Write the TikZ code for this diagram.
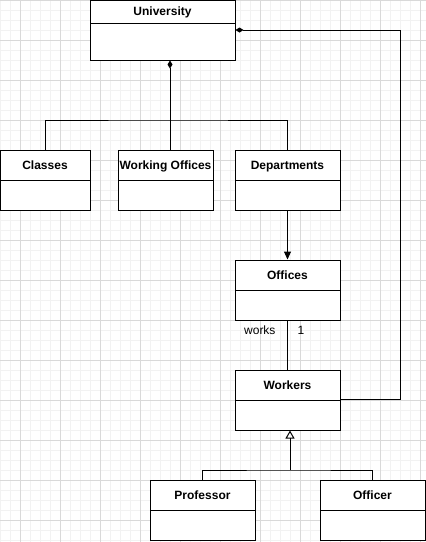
\documentclass[tikz,border=0pt]{standalone}
\usepackage{fontspec}
\setmainfont{Liberation Sans}
\usetikzlibrary{arrows.meta}

\begin{document}
\begin{tikzpicture}[x=1pt,y=-1pt,line width=1pt,
    cname/.style={draw,fill=white,minimum height=30,inner sep=0,
      text height=8.6,text depth=0,
      font=\fontsize{12}{14}\selectfont\bfseries},
    cbody/.style={draw,fill=white,minimum height=30,inner sep=0},
    comp/.style={{Diamond[length=8,width=5]}-},
    gen/.style={-{Triangle[open,length=8,width=9]}},
    assoc/.style={-{Triangle[length=8,width=7]}},
    lbl/.style={font=\fontsize{12}{14}\selectfont,inner sep=0}]

  \useasboundingbox (0,0) rectangle (426,542);

  % background grid
  \foreach \i in {0,10,...,420} \draw[line width=0.5pt,black!5] (\i,0) -- (\i,542);
  \foreach \i in {0,10,...,540} \draw[line width=0.5pt,black!5] (0,\i) -- (426,\i);
  \foreach \i in {20,60,...,420} \draw[line width=0.6pt,black!15] (\i,0) -- (\i,542);
  \foreach \i in {0,40,...,540} \draw[line width=0.6pt,black!15] (0,\i) -- (426,\i);

  % classes
  \node[cname,minimum width=145,minimum height=23] (univ) at (162.5,11.5) {University};
  \node[cbody,minimum width=145,minimum height=37] (univ-b) at (162.5,41.5) {};

  \node[cname,minimum width=90] (classes) at (45,165) {Classes};
  \node[cbody,minimum width=90] (classes-b) at (45,195) {};

  \node[cname,minimum width=95] (work) at (165.5,165) {Working Offices};
  \node[cbody,minimum width=95] (work-b) at (165.5,195) {};

  \node[cname,minimum width=105] (dept) at (287.5,165) {Departments};
  \node[cbody,minimum width=105] (dept-b) at (287.5,195) {};

  \node[cname,minimum width=105] (offices) at (287.5,275) {Offices};
  \node[cbody,minimum width=105] (offices-b) at (287.5,305) {};

  \node[cname,minimum width=105] (workers) at (287.5,385) {Workers};
  \node[cbody,minimum width=105] (workers-b) at (287.5,415) {};

  \node[cname,minimum width=105] (prof) at (202.5,495) {Professor};
  \node[cbody,minimum width=105] (prof-b) at (202.5,525) {};

  \node[cname,minimum width=105] (officer) at (372.5,495) {Officer};
  \node[cbody,minimum width=105] (officer-b) at (372.5,525) {};

  % connectors
  \coordinate (trunk) at (170,120);
  \coordinate (bend) at (400,30);
  \coordinate (split) at (290,470);

  \draw[comp] (univ-b.south -| trunk) -- (work.north -| trunk);
  \draw (classes.north) |- (trunk) -| (dept.north);
  \draw[comp] (univ-b.east |- bend) -- (bend) |- (workers-b.north east);
  \draw[assoc] (dept-b.south) -- (offices.north);
  \draw (offices-b.south) -- (workers.north);
  \node[lbl,anchor=east] (works) at (276,330) {works};
  \node[lbl,anchor=west] (one) at (297,330) {1};
  \draw[gen] (split) -- (workers-b.south -| split);
  \draw (prof.north) |- (split) -| (officer.north);

\end{tikzpicture}
\end{document}
